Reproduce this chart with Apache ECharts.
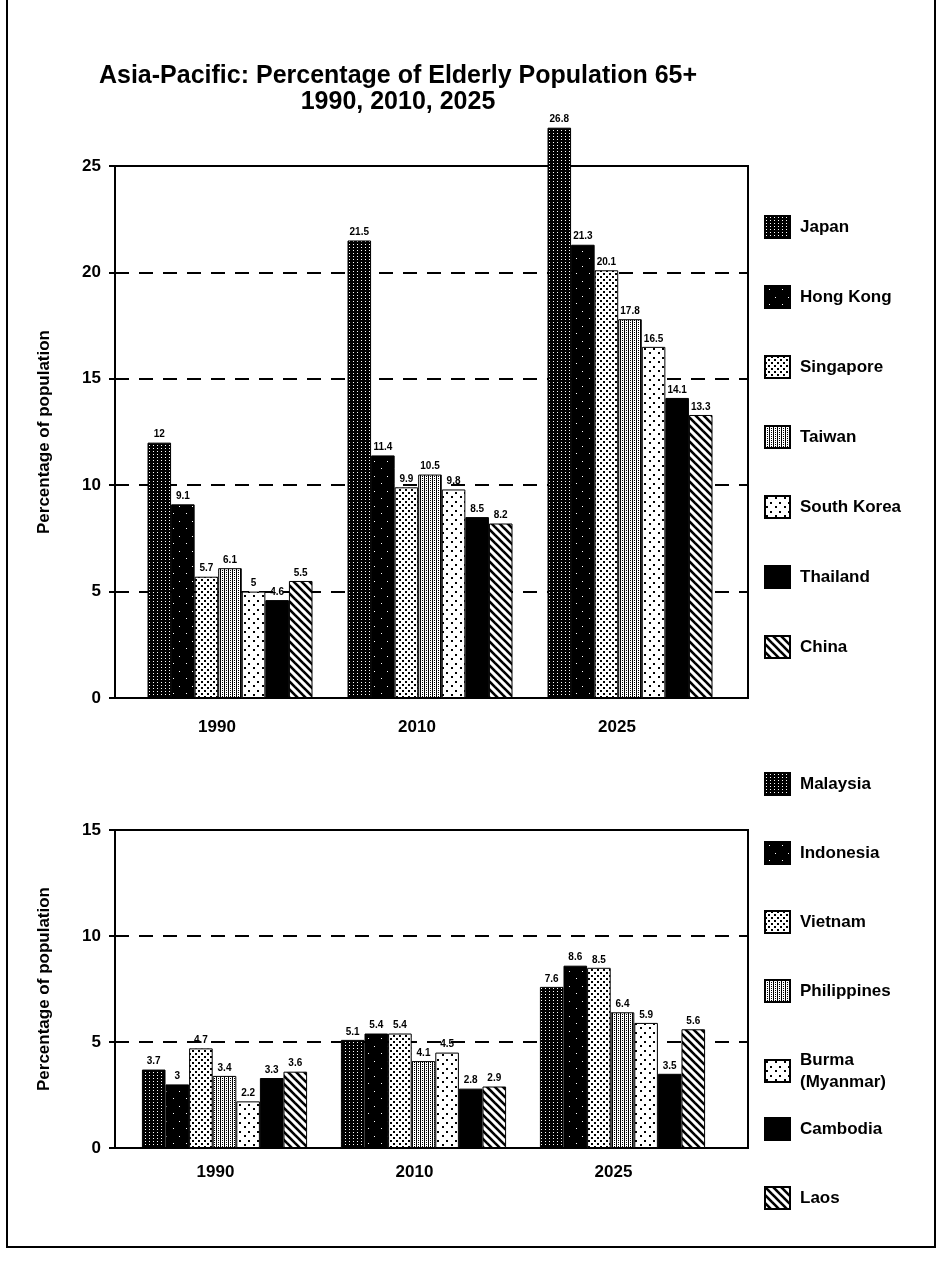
<!DOCTYPE html>
<html>
<head>
<meta charset="utf-8">
<script src="https://cdn.jsdelivr.net/npm/echarts@6/dist/echarts.min.js"></script>
<style>
  html, body { margin: 0; padding: 0; background: #fff; }
  #chart { width: 938px; height: 1261px; }
</style>
</head>
<body>
<div id="chart"></div>
<script>
'use strict';
// the data
const years = ['1990', '2010', '2025'];

const topNames = ['Japan', 'Hong Kong', 'Singapore', 'Taiwan', 'South Korea', 'Thailand', 'China'];
const japan = [12, 21.5, 26.8];
const hongKong = [9.1, 11.4, 21.3];
const singapore = [5.7, 9.9, 20.1];
const taiwan = [6.1, 10.5, 17.8];
const southKorea = [5, 9.8, 16.5];
const thailand = [4.6, 8.5, 14.1];
const china = [5.5, 8.2, 13.3];

const bottomNames = ['Malaysia', 'Indonesia', 'Vietnam', 'Philippines', 'Burma\n(Myanmar)', 'Cambodia', 'Laos'];
const malaysia = [3.7, 5.1, 7.6];
const indonesia = [3, 5.4, 8.6];
const vietnam = [4.7, 5.4, 8.5];
const philippines = [3.4, 4.1, 6.4];
const burma = [2.2, 4.5, 5.9];
const cambodia = [3.3, 2.8, 3.5];
const laos = [3.6, 2.9, 5.6];

const topValues = [japan, hongKong, singapore, taiwan, southKorea, thailand, china];
const bottomValues = [malaysia, indonesia, vietnam, philippines, burma, cambodia, laos];

const FONT = '"Liberation Sans", Arial, sans-serif';

// little canvas tiles to mimic the printed fill patterns
function makePattern(w, h, bg, draw) {
  var c = document.createElement('canvas');
  c.width = w; c.height = h;
  var ctx = c.getContext('2d');
  ctx.fillStyle = bg;
  ctx.fillRect(0, 0, w, h);
  ctx.fillStyle = '#000';
  ctx.strokeStyle = '#000';
  if (draw) draw(ctx);
  return { image: c, repeat: 'repeat' };
}

var patDenseDark = makePattern(4, 3, '#000', function(ctx) {
  ctx.fillStyle = '#fff';
  ctx.fillRect(1, 1, 1, 1);
});
var patSpeckDark = makePattern(13, 15, '#000', function(ctx) {
  ctx.fillStyle = '#fff';
  ctx.fillRect(4, 3, 1, 1);
  ctx.fillRect(10, 11, 1, 1);
});
var patCheckDots = makePattern(6, 6, '#fff', function(ctx) {
  ctx.fillRect(0, 0, 2, 2);
  ctx.fillRect(3, 3, 2, 2);
});
var patGrid = makePattern(4, 4, '#fff', function(ctx) {
  ctx.fillRect(0, 0, 1, 4);
  ctx.fillRect(2, 0, 1, 1);
  ctx.fillRect(2, 2, 1, 1);
});
var patSparseDots = makePattern(9, 9, '#fff', function(ctx) {
  ctx.fillRect(1, 1, 2, 2);
  ctx.fillRect(5, 6, 2, 2);
});
var patStripes = makePattern(8, 8, '#fff', function(ctx) {
  ctx.lineWidth = 2.6;
  [-8, 0, 8].forEach(function(c) {
    ctx.beginPath();
    ctx.moveTo(-1, c - 1);
    ctx.lineTo(9, c + 9);
    ctx.stroke();
  });
});

const fills = [patDenseDark, patSpeckDark, patCheckDots, patGrid, patSparseDots, '#000', patStripes];

function buildSeries(names, values, axisIdx, catGap) {
  return names.map(function(name, i) {
    return {
      name: name,
      type: 'bar',
      xAxisIndex: axisIdx,
      yAxisIndex: axisIdx,
      data: values[i],
      barGap: '0%',
      barCategoryGap: catGap,
      clip: false,
      itemStyle: { color: fills[i], borderColor: '#000', borderWidth: 1 },
      label: {
        show: true,
        position: 'top',
        distance: 3,
        color: '#000',
        fontFamily: FONT,
        fontWeight: 'bold',
        fontSize: 10
      }
    };
  });
}

function buildLegends(names, firstCenter, step) {
  return names.map(function(name, i) {
    var center = firstCenter + i * step;
    var twoLines = name.indexOf('\n') >= 0;
    return {
      data: [{ name: name, icon: 'rect' }],
      orient: 'vertical',
      left: 764,
      top: twoLines ? center - 10 : center - 11,
      padding: 0,
      itemWidth: 25,
      itemHeight: 22,
      selectedMode: false,
      textStyle: { fontFamily: FONT, fontWeight: 'bold', fontSize: 17, color: '#000', lineHeight: 22, padding: [0, 0, 0, 5] }
    };
  });
}

// frame axes: the boxed grid with y labels and dashed lines
function frameYAxis(gridIdx, max) {
  return {
    type: 'value',
    gridIndex: gridIdx,
    min: 0,
    max: max,
    interval: 5,
    name: 'Percentage of population',
    nameLocation: 'middle',
    nameRotate: 90,
    nameGap: 62,
    nameTextStyle: { fontFamily: FONT, fontWeight: 'bold', fontSize: 17, color: '#000' },
    axisLine: { show: true, lineStyle: { color: '#000', width: 2 } },
    axisTick: { show: true, inside: false, length: 6, lineStyle: { color: '#000', width: 2 } },
    axisLabel: { fontFamily: FONT, fontWeight: 'bold', fontSize: 17, color: '#000', margin: 14 },
    splitLine: { show: true, lineStyle: { color: '#000', width: 2, type: [14, 10] } }
  };
}
function frameXAxis(gridIdx) {
  return {
    type: 'category',
    gridIndex: gridIdx,
    data: years,
    axisLine: { lineStyle: { color: '#000', width: 2 } },
    axisTick: { show: false },
    axisLabel: { show: false }
  };
}
// bar axes: a slightly narrower grid that holds the bar groups
function barYAxis(gridIdx, max) {
  return { type: 'value', gridIndex: gridIdx, min: 0, max: max, interval: 5, show: false };
}
function barXAxis(gridIdx, margin, shift) {
  return {
    type: 'category',
    gridIndex: gridIdx,
    data: years,
    axisLine: { show: false },
    axisTick: { show: false },
    splitLine: { show: false },
    axisLabel: { fontFamily: FONT, fontWeight: 'bold', fontSize: 17, color: '#000', margin: margin, padding: [0, shift, 0, 0] }
  };
}

var myChart = echarts.init(document.getElementById('chart'), null, { renderer: 'canvas' });

var option = {
  backgroundColor: '#fff',
  animation: false,
  graphic: [
    {
      type: 'text',
      style: {
        text: 'Asia-Pacific: Percentage of Elderly Population 65+\n1990, 2010, 2025',
        x: 398, y: 63,
        textAlign: 'center',
        fill: '#000',
        font: 'bold 25px ' + FONT,
        lineHeight: 26
      }
    },
    {
      type: 'polyline',
      shape: { points: [[7, 0], [7, 1247], [935, 1247], [935, 0]] },
      style: { stroke: '#000', lineWidth: 2, fill: null }
    }
  ],
  legend: buildLegends(topNames, 226, 70).concat(buildLegends(bottomNames, 783, 69)),
  grid: [
    { left: 115, top: 166, width: 633, height: 532, show: true, borderColor: '#000', borderWidth: 2 },
    { left: 130, top: 166, width: 600, height: 532 },
    { left: 115, top: 830, width: 633, height: 318, show: true, borderColor: '#000', borderWidth: 2 },
    { left: 125, top: 830, width: 597, height: 318 }
  ],
  xAxis: [frameXAxis(0), barXAxis(1, 21, 26), frameXAxis(2), barXAxis(3, 16, 18)],
  yAxis: [frameYAxis(0, 25), barYAxis(1, 25), frameYAxis(2, 15), barYAxis(3, 15)],
  series: buildSeries(topNames, topValues, 1, '17.5%').concat(buildSeries(bottomNames, bottomValues, 3, '17%'))
};

if (option && typeof option === 'object') {
  myChart.setOption(option, true);
}
</script>
</body>
</html>
